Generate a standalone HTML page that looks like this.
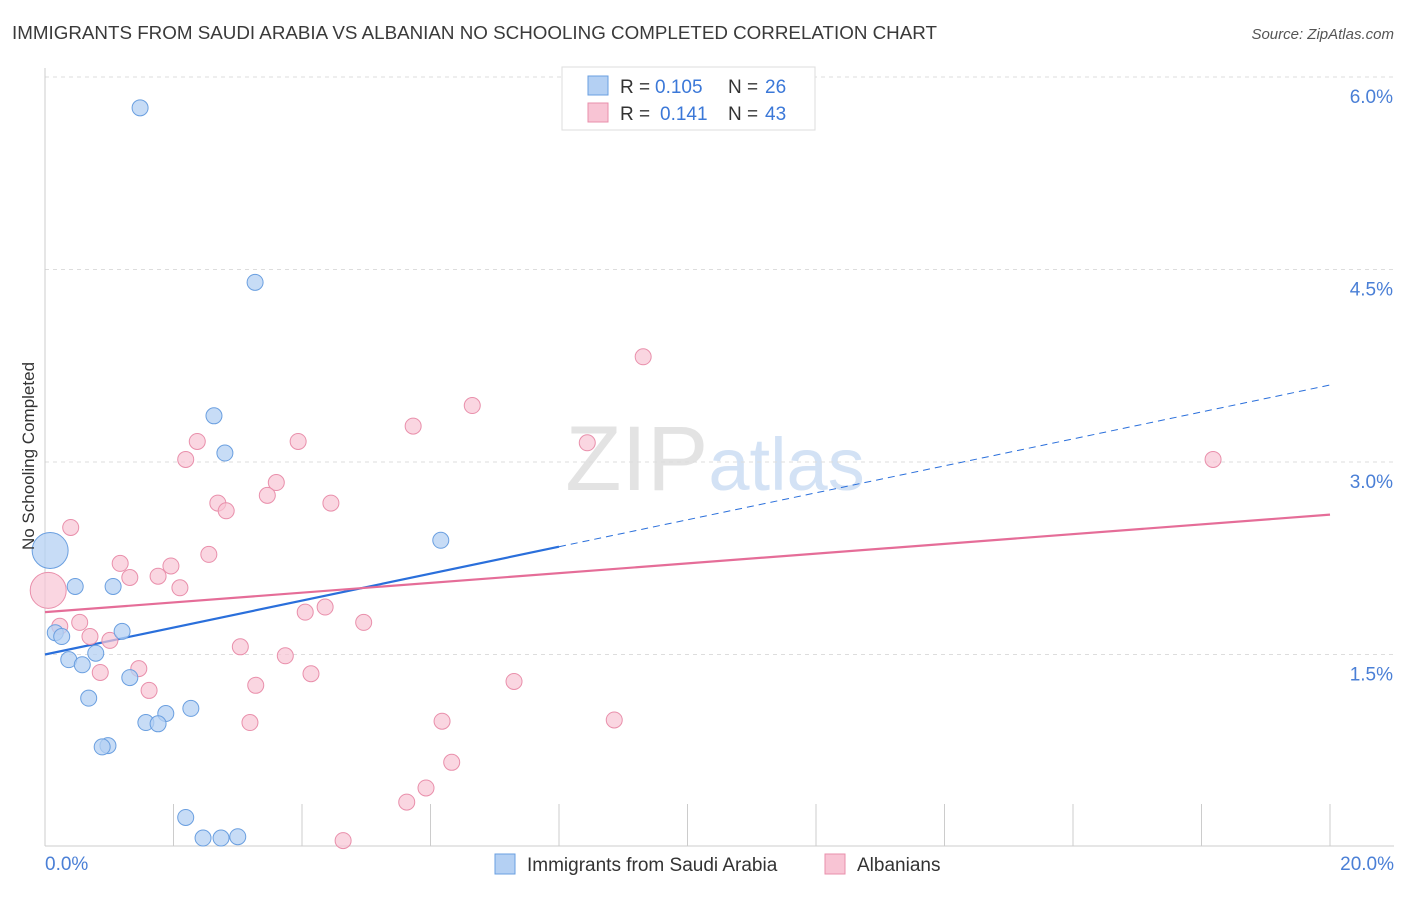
<!DOCTYPE html>
<html><head><meta charset="utf-8"><style>
body{margin:0;background:#fff;font-family:"Liberation Sans",sans-serif;}
svg text{font-family:"Liberation Sans",sans-serif;}
</style></head><body>
<svg id="chart" width="1406" height="892" viewBox="0 0 1406 892" xmlns="http://www.w3.org/2000/svg">
<text x="12" y="39" font-size="18.8" fill="#3a3a3a">IMMIGRANTS FROM SAUDI ARABIA VS ALBANIAN NO SCHOOLING COMPLETED CORRELATION CHART</text>
<text x="1394" y="39" font-size="15" font-style="italic" fill="#555" text-anchor="end">Source: ZipAtlas.com</text>
<text x="715" y="490" font-size="92" fill="#e3e3e3" text-anchor="middle" font-family="Liberation Serif">ZIP<tspan fill="#d3e2f5" font-family="Liberation Sans" font-size="74">atlas</tspan></text>
<g id="grid"></g>
<g id="axes"></g>
<g id="lines"></g>
<g id="pts"></g>
<text transform="translate(34,456) rotate(-90)" font-size="17" fill="#333" text-anchor="middle">No Schooling Completed</text>
<g>
<rect x="562" y="67" width="253" height="63" fill="#fff" stroke="#ddd"/>
<rect x="588" y="76" width="20" height="19" fill="#b4d0f3" stroke="#6a9fe0"/>
<text x="620" y="93" font-size="19" fill="#333">R =</text>
<text x="655" y="93" font-size="19" fill="#3b78d8">0.105</text>
<text x="728" y="93" font-size="19" fill="#333">N =</text>
<text x="765" y="93" font-size="19" fill="#3b78d8">26</text>
<rect x="588" y="103" width="20" height="19" fill="#f8c4d4" stroke="#e98fab"/>
<text x="620" y="120" font-size="19" fill="#333">R =</text>
<text x="660" y="120" font-size="19" fill="#3b78d8">0.141</text>
<text x="728" y="120" font-size="19" fill="#333">N =</text>
<text x="765" y="120" font-size="19" fill="#3b78d8">43</text>
</g>
<g>
<rect x="495" y="854" width="20" height="20" fill="#b4d0f3" stroke="#6a9fe0"/>
<text x="527" y="871" font-size="19" fill="#333">Immigrants from Saudi Arabia</text>
<rect x="825" y="854" width="20" height="20" fill="#f8c4d4" stroke="#e98fab"/>
<text x="857" y="871" font-size="19" fill="#333">Albanians</text>
</g>
</svg>
<script>
const yTicks=[1.5,3.0,4.5,6.0];
const yTickLabels=["1.5%","3.0%","4.5%","6.0%"];
const xTicks=[0,2,4,6,8,10,12,14,16,18,20];
const xEndLabels=["0.0%","20.0%"];
const saudiX=[1.48,3.27,2.63,2.80,6.16,0.08,0.47,1.06,0.16,0.26,1.20,0.79,0.37,0.58,1.32,0.68,2.27,1.88,1.57,1.76,0.98,0.89,2.19,2.46,2.74,3.00];
const saudiY=[5.76,4.40,3.36,3.07,2.39,2.31,2.03,2.03,1.67,1.64,1.68,1.51,1.46,1.42,1.32,1.16,1.08,1.04,0.97,0.96,0.79,0.78,0.23,0.07,0.07,0.08];
const saudiBig=[5];
const albX=[9.31,6.65,5.73,8.44,2.37,3.94,2.19,18.18,3.60,3.46,2.69,4.45,2.82,0.40,2.55,1.17,1.96,1.32,1.76,2.10,0.05,4.36,4.05,4.96,0.23,0.54,0.70,1.01,3.04,3.74,1.46,0.86,4.14,7.30,3.28,1.62,3.19,6.18,8.86,6.33,5.93,5.63,4.64];
const albY=[3.82,3.44,3.28,3.15,3.16,3.16,3.02,3.02,2.84,2.74,2.68,2.68,2.62,2.49,2.28,2.21,2.19,2.10,2.11,2.02,2.00,1.87,1.83,1.75,1.72,1.75,1.64,1.61,1.56,1.49,1.39,1.36,1.35,1.29,1.26,1.22,0.97,0.98,0.99,0.66,0.46,0.35,0.05];
const albBig=[20];
const saudiTrend=[1.50,3.60];
const saudiSolidEnd=8;
const albTrend=[1.83,2.59];
const NS="http://www.w3.org/2000/svg";
const X=v=>45+v*64.25, Y=v=>847-v*128.33;
function mk(t,a,p){const e=document.createElementNS(NS,t);for(const k in a)e.setAttribute(k,a[k]);document.getElementById(p).appendChild(e);return e;}
yTicks.forEach((t,i)=>{
 const g=mk('line',{x1:45,x2:1394,y1:Y(t),y2:Y(t),stroke:'#ddd','stroke-dasharray':'4,4'},'grid');
 
 
 const l=mk('text',{x:1393,y:Y(t)+26,'font-size':19,fill:'#4a7fd6','text-anchor':'end'},'axes');
 l.textContent=yTickLabels[i];
 
 
});
const ax=mk('line',{x1:45,x2:45,y1:68,y2:846,stroke:'#ccc'},'axes');


const bx=mk('line',{x1:45,x2:1394,y1:846,y2:846,stroke:'#ccc'},'axes');


xTicks.forEach(t=>{
 const k=mk('line',{x1:X(t),x2:X(t),y1:804,y2:846,stroke:'#ccc'},'axes');
 
 
});
[[0,'start',45],[20,'end',1394]].forEach((d,i)=>{
 const l=mk('text',{x:d[2],y:870,'font-size':19,fill:'#4a7fd6','text-anchor':d[1]},'axes');
 l.textContent=xEndLabels[i];
 
 
});
function trendY(tr,x){return tr[0]+(tr[1]-tr[0])*x/20;}
let s=mk('line',{x1:X(0),y1:Y(trendY(saudiTrend,0)),x2:X(saudiSolidEnd),y2:Y(trendY(saudiTrend,saudiSolidEnd)),stroke:'#2a6fdb','stroke-width':2.2},'lines');


s=mk('line',{x1:X(saudiSolidEnd),y1:Y(trendY(saudiTrend,saudiSolidEnd)),x2:X(20),y2:Y(trendY(saudiTrend,20)),stroke:'#2a6fdb','stroke-width':1,'stroke-dasharray':'7,5'},'lines');


s=mk('line',{x1:X(0),y1:Y(trendY(albTrend,0)),x2:X(20),y2:Y(trendY(albTrend,20)),stroke:'#e56d98','stroke-width':2.2},'lines');


albX.forEach((x,i)=>{
 const c=mk('circle',{cx:X(x),cy:Y(albY[i]),r:albBig.includes(i)?18:8,fill:'#f8c4d4','fill-opacity':0.7,stroke:'#e98fab','stroke-width':1},'pts');
 
 
});
saudiX.forEach((x,i)=>{
 const c=mk('circle',{cx:X(x),cy:Y(saudiY[i]),r:saudiBig.includes(i)?18:8,fill:'#b4d0f3','fill-opacity':0.75,stroke:'#6a9fe0','stroke-width':1},'pts');
 
 
});
</script>
</body></html>
